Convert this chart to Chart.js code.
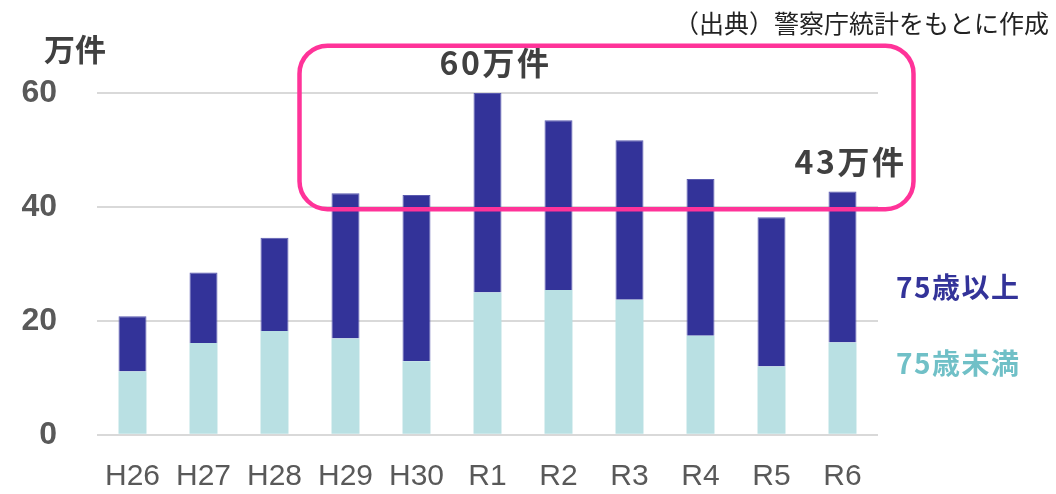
<!DOCTYPE html>
<html lang="ja">
<head>
<meta charset="utf-8">
<script src="https://cdn.jsdelivr.net/npm/chart.js@4.4.1/dist/chart.umd.min.js"></script>
<style>
	body { margin: 0; background: #fff; }
	#wrap { width: 1056px; height: 494px; position: relative; }
</style>
</head>
<body>
<div id="wrap"><canvas id="chart"></canvas></div>
<script>
// 年度
const years = ['H26', 'H27', 'H28', 'H29', 'H30', 'R1', 'R2', 'R3', 'R4', 'R5', 'R6'];
// 75歳未満（万件）
const under75 = [11.1, 16.1, 18.2, 16.9, 12.9, 25.0, 25.4, 23.7, 17.4, 12.0, 16.2];
// 75歳以上（万件）
const over75 = [9.7, 12.4, 16.4, 25.5, 29.2, 35.0, 29.8, 28.0, 27.5, 26.2, 26.5];
const yTicks = [0, 20, 40, 60];
// 合計を表示する年度
const calloutYears = ['R1', 'R6'];

const darkColor = '#333399';
const lightColor = '#b9e0e3';
const jpFont = '"Noto Sans CJK JP", "Noto Sans", sans-serif';

const overlayPlugin = {
	id: 'overlay',
	afterDraw(chart) {
		const { ctx, scales } = chart;
		const x = scales.x;
		const y = scales.y;
		ctx.save();

		// 単位
		ctx.fillStyle = '#404040';
		ctx.font = 'bold 31px ' + jpFont;
		ctx.textAlign = 'center';
		ctx.textBaseline = 'middle';
		ctx.fillText('万件', 75, 49);

		// 出典
		ctx.fillStyle = '#222';
		ctx.font = '25px ' + jpFont;
		ctx.textAlign = 'right';
		ctx.fillText('（出典）警察庁統計をもとに作成', 1049, 23);

		// 凡例
		ctx.textAlign = 'left';
		ctx.font = 'bold 28px ' + jpFont;
		ctx.letterSpacing = '1.5px';
		ctx.fillStyle = darkColor;
		ctx.fillText('75歳以上', 896, 287);
		ctx.fillStyle = '#70c0c7';
		ctx.fillText('75歳未満', 896, 363);

		// ピンクの枠
		const left = x.getPixelForValue(3) - 46;
		const right = x.getPixelForValue(10) + 71;
		const top = y.getPixelForValue(68.3);
		const bottom = y.getPixelForValue(39.6);
		ctx.strokeStyle = '#ff3399';
		ctx.lineWidth = 4.5;
		ctx.beginPath();
		ctx.roundRect(left, top, right - left, bottom - top, 28);
		ctx.stroke();

		// 合計ラベル
		ctx.fillStyle = '#404040';
		ctx.font = 'bold 32px ' + jpFont;
		ctx.textAlign = 'center';
		ctx.letterSpacing = '2.5px';
		calloutYears.forEach((year) => {
			const i = years.indexOf(year);
			const total = under75[i] + over75[i];
			ctx.fillText(Math.round(total) + '万件', x.getPixelForValue(i) + 8, y.getPixelForValue(total) - 30);
		});

		ctx.restore();
	},
};

new Chart(document.getElementById('chart'), {
	type: 'bar',
	data: {
		labels: years,
		datasets: [
			{
				label: '75歳未満',
				data: under75,
				backgroundColor: lightColor,
			},
			{
				label: '75歳以上',
				data: over75,
				backgroundColor: darkColor,
				borderColor: '#5a5ab0',
				borderWidth: 1,
				borderSkipped: 'bottom',
			},
		],
	},
	options: {
		responsive: true,
		maintainAspectRatio: false,
		animation: false,
		devicePixelRatio: 1,
		layout: {
			padding: { top: 93, right: 178, bottom: 0, left: 0 },
		},
		categoryPercentage: 1,
		barPercentage: 0.394,
		plugins: {
			legend: { display: false },
			tooltip: { enabled: false },
		},
		scales: {
			x: {
				stacked: true,
				grid: { display: false },
				border: { display: false },
				ticks: {
					color: '#595959',
					font: { family: '"Liberation Sans", Arial, sans-serif', size: 30 },
					padding: 16,
					maxRotation: 0,
				},
				afterFit(scale) {
					scale.height = 56;
				},
			},
			y: {
				stacked: true,
				min: 0,
				max: 60,
				afterBuildTicks(scale) {
					scale.ticks = yTicks.map((v) => ({ value: v }));
				},
				grid: { color: '#d9d9d9', lineWidth: 2, drawTicks: false },
				border: { display: false },
				ticks: {
					color: '#595959',
					font: { family: '"Liberation Sans", Arial, sans-serif', size: 32, weight: 'bold' },
					padding: 40,
				},
				afterFit(scale) {
					scale.width = 97;
				},
			},
		},
	},
	plugins: [overlayPlugin],
});
</script>
</body>
</html>
